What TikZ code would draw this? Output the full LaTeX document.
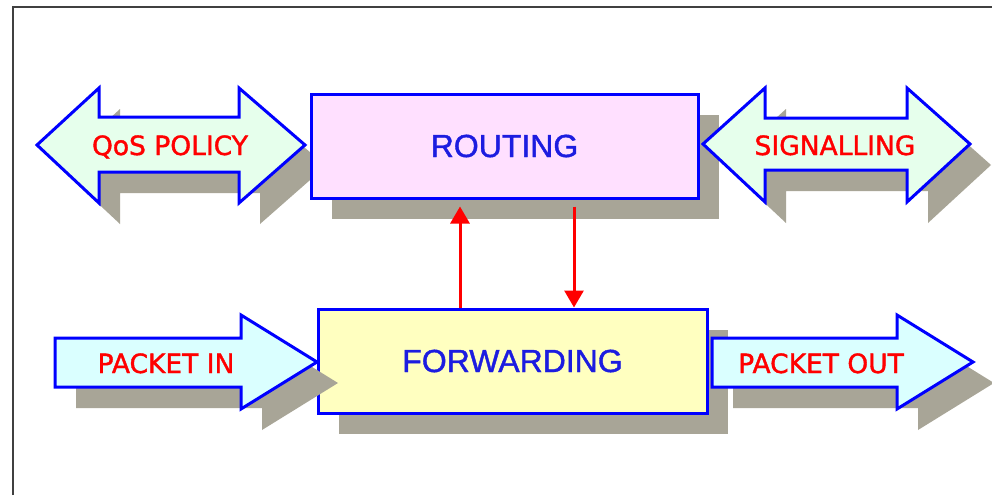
\documentclass[tikz,border=0pt]{standalone}
\usepackage{fontspec}
\usetikzlibrary{arrows.meta,shadows}
\newfontfamily\lblfont[FakeBold=1.4]{DejaVu Sans}
\newfontfamily\boxfont[FakeBold=1.2]{Liberation Sans}
\definecolor{shade}{HTML}{A8A597}
\definecolor{pinkfill}{HTML}{FFE0FF}
\definecolor{yellowfill}{HTML}{FFFFC0}
\definecolor{mintfill}{HTML}{E6FFEC}
\definecolor{cyanfill}{HTML}{DAFFFF}
\definecolor{edgeblue}{HTML}{0000FF}
\definecolor{textblue}{HTML}{1C1CE0}
\definecolor{labelred}{HTML}{FF0000}
\tikzset{
  x=1pt, y=-1pt,
  castshadow/.style={general shadow={shadow xshift=21pt, shadow yshift=-21pt, fill=shade}},
  blockarrow/.style={castshadow, draw=edgeblue, line width=3pt, line join=miter},
  funcbox/.style={castshadow, draw=edgeblue, line width=3pt, inner sep=0pt,
    text=textblue, font=\boxfont\fontsize{32}{36}\selectfont},
  arrowlabel/.style={anchor=base, text=labelred, inner sep=0pt,
    font=\lblfont\fontsize{26.5}{30}\selectfont},
  ctrl/.style={draw=labelred, line width=3pt, -{Triangle[width=19pt,length=17pt]}}
}
\begin{document}
\begin{tikzpicture}
\useasboundingbox (0,0) rectangle (992,495);
\fill[white] (0,0) rectangle (992,495);
% outer frame
\draw[line width=2pt, draw=black!75] (13,495) -- (13,7) -- (992,7);

% QoS policy (double arrow)
\path[blockarrow, fill=mintfill]
  (37,145) -- (99,88) -- (99,117) -- (239,117) -- (239,88) -- (305,145)
  -- (239,203) -- (239,172) -- (99,172) -- (99,203) -- cycle;
\node[arrowlabel] (qos) at (170,155) {QoS POLICY};

% routing block
\node[funcbox, fill=pinkfill, minimum width=387pt, minimum height=104pt]
  (rout) at (504.5,146) {ROUTING};

% signalling (double arrow)
\path[blockarrow, fill=mintfill]
  (703,144) -- (765,88) -- (765,118) -- (907,118) -- (907,88) -- (970,144)
  -- (907,202) -- (907,170) -- (765,170) -- (765,202) -- cycle;
\node[arrowlabel] (sig) at (835,155) {SIGNALLING};

% forwarding block
\node[funcbox, fill=yellowfill, minimum width=389pt, minimum height=104pt]
  (fwd) at (512.5,361) {FORWARDING};

% packet in
\path[blockarrow, fill=cyanfill]
  (55,338) -- (241,338) -- (241,315) -- (317,362) -- (241,409) -- (241,387)
  -- (55,387) -- cycle;
\node[arrowlabel] (pin) at (166,373) {PACKET IN};

% packet out
\path[blockarrow, fill=cyanfill]
  (712,338) -- (897,338) -- (897,315) -- (973,362) -- (897,409) -- (897,387)
  -- (712,387) -- cycle;
\node[arrowlabel] (pout) at (821,373) {PACKET OUT};

% control links between forwarding and routing
\coordinate (upx) at (460,0);
\coordinate (dnx) at (574,0);
\draw[ctrl, shorten >=7pt] (upx |- fwd.north) -- (upx |- rout.south);
\draw[ctrl, shorten <=7pt] (dnx |- rout.south) -- (dnx |- fwd.north);
\end{tikzpicture}
\end{document}
